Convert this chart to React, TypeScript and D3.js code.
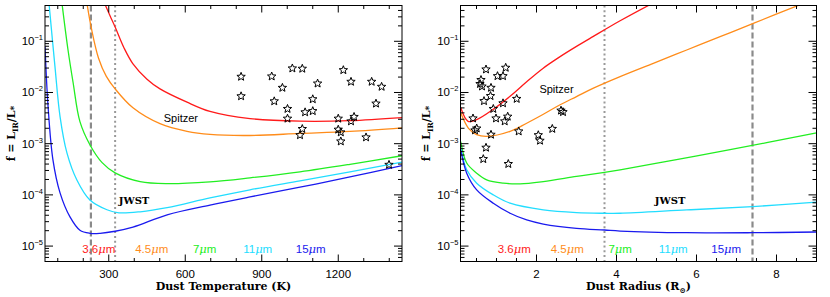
import React from "react";
import * as d3 from "d3";

const W = 830;
const H = 297;

// ---------- Left panel: Dust Temperature (K) vs log10 f ----------
const T_RED: [number, number][] = [[285, -0.275], [305, -0.5], [325, -0.72], [360, -1.13], [395, -1.44], [450, -1.74], [501, -1.93], [607, -2.19], [697, -2.37], [854, -2.51], [1050, -2.56], [1246, -2.55], [1450, -2.49]];
const T_ORANGE: [number, number][] = [[215, -0.275], [232, -0.75], [260, -1.33], [290, -1.68], [325, -1.93], [395, -2.3], [501, -2.61], [607, -2.76], [697, -2.82], [854, -2.84], [1050, -2.8], [1246, -2.76], [1450, -2.69]];
const T_GREEN: [number, number][] = [[117, -0.275], [140, -1.16], [160, -1.8], [187, -2.57], [226, -3.02], [274, -3.37], [325, -3.57], [423, -3.74], [529, -3.78], [697, -3.745], [854, -3.667], [1050, -3.549], [1246, -3.402], [1450, -3.235]];
const T_CYAN: [number, number][] = [[66, -0.275], [89, -1.49], [109, -2.47], [136, -3.18], [175, -3.71], [226, -4.1], [293, -4.29], [340, -4.35], [423, -4.33], [529, -4.25], [697, -4.06], [854, -3.9], [1050, -3.725], [1246, -3.55], [1450, -3.36]];
const T_BLUE: [number, number][] = [[50, -1.1], [62, -2.27], [81, -3.31], [109, -3.96], [148, -4.43], [187, -4.69], [226, -4.75], [266, -4.75], [325, -4.71], [395, -4.63], [529, -4.39], [697, -4.2], [854, -4.04], [1050, -3.85], [1246, -3.65], [1450, -3.43]];
const T_STARS: [number, number][] = [[819, -1.692], [819, -2.073], [939, -1.686], [1020, -1.529], [1059, -1.535], [981, -1.908], [949, -2.171], [1001, -2.32], [1001, -2.51], [1070, -2.386], [1100, -2.131], [1100, -2.363], [1119, -1.824], [1059, -2.712], [1050, -2.833], [1220, -1.563], [1250, -1.79], [1200, -2.51], [1200, -2.725], [1210, -2.778], [1210, -2.955], [1250, -2.563], [1262, -2.476], [1309, -2.876], [1331, -1.79], [1370, -1.888], [1348, -2.216], [1399, -3.412]];
const T_DASHED = 230;
const T_DOTTED = 325;
const T_MAJOR = [300, 600, 900, 1200];
const T_MINOR = [100, 200, 400, 500, 700, 800, 1000, 1100, 1300, 1400];

// ---------- Right panel: Dust Radius (R_sun) vs log10 f ----------
const R_RED: [number, number][] = [[0.105, -2.294], [0.29, -2.563], [0.505, -2.529], [0.91, -2.333], [1.34, -2.073], [1.755, -1.79], [2.16, -1.53], [2.59, -1.3], [3.0, -1.1], [3.41, -0.91], [4.09, -0.6], [4.92, -0.25]];
const R_ORANGE: [number, number][] = [[0.105, -2.398], [0.3, -2.7], [0.505, -2.824], [0.755, -2.857], [1.34, -2.759], [1.755, -2.6], [2.16, -2.43], [2.59, -2.24], [3.0, -2.08], [3.41, -1.92], [4.09, -1.69], [4.92, -1.43], [5.755, -1.17], [6.59, -0.91], [7.42, -0.65], [8.67, -0.26]];
const R_GREEN: [number, number][] = [[0.105, -2.96], [0.255, -3.378], [0.505, -3.575], [0.755, -3.706], [1.17, -3.771], [1.59, -3.784], [2.17, -3.739], [3.0, -3.64], [3.7, -3.56], [4.09, -3.51], [5.5, -3.31], [6.84, -3.118], [9.0, -2.79]];
const R_CYAN: [number, number][] = [[0.105, -3.078], [0.255, -3.51], [0.505, -3.771], [0.92, -4.0], [1.34, -4.163], [2.17, -4.294], [3.0, -4.347], [3.7, -4.359], [4.09, -4.359], [5.755, -4.294], [7.4, -4.229], [9.0, -4.143]];
const R_BLUE: [number, number][] = [[0.105, -3.118], [0.255, -3.575], [0.505, -3.902], [0.92, -4.163], [1.34, -4.359], [1.755, -4.49], [2.17, -4.569], [3.0, -4.653], [3.7, -4.686], [4.09, -4.706], [5.755, -4.739], [7.4, -4.739], [9.0, -4.725]];
const R_STARS: [number, number][] = [[0.7375, -1.549], [1.23, -1.516], [1.025, -1.68], [1.1625, -1.68], [0.6125, -1.755], [0.5875, -1.833], [0.6375, -1.882], [0.8625, -1.908], [0.85, -2.069], [0.6875, -2.167], [1.505, -2.124], [1.1625, -2.21], [0.92, -2.32], [0.9875, -2.506], [1.28, -2.471], [1.205, -2.563], [0.4125, -2.506], [2.6125, -2.353], [2.6625, -2.382], [0.505, -2.702], [0.4625, -2.739], [0.8625, -2.824], [1.555, -2.759], [2.395, -2.71], [2.045, -2.833], [2.0875, -2.941], [0.7375, -3.078], [0.67, -3.3], [1.295, -3.396]];
const R_DOTTED = 3.7;
const R_DASHED = 7.4;
const R_MAJOR = [2, 4, 6, 8];
const R_MINOR = [0.5, 1, 1.5, 2.5, 3, 3.5, 4.5, 5, 5.5, 6.5, 7, 7.5, 8.5, 9];

// ---------- shared ----------
const BANDS = ["3.6", "4.5", "7", "11", "15"];
const COLORS = ["#ff1a1a", "#ff8c1a", "#22ee22", "#22ddff", "#1a1aee"];
const Y_DECADES = [-5, -4, -3, -2, -1];
const Y_DOMAIN: [number, number] = [5e-6, 0.5];

const TOP = 5.5;
const BOTTOM = 261.5;

function starPath(cx: number, cy: number, R = 4.4, r = 1.9) {
  const pts: string[] = [];
  for (let i = 0; i < 10; i++) {
    const a = -Math.PI / 2 + (i * Math.PI) / 5;
    const rr = i % 2 === 0 ? R : r;
    pts.push(`${(cx + rr * Math.cos(a)).toFixed(2)},${(cy + rr * Math.sin(a)).toFixed(2)}`);
  }
  return "M" + pts.join("L") + "Z";
}

type PanelCfg = {
  id: string;
  left: number;
  right: number;
  xDomain: [number, number];
  series: [number, number][][];
  stars: [number, number][];
  dashed: number;
  dotted: number;
  major: number[];
  minor: number[];
  spitzer: [number, number];
  jwst: [number, number];
  xTitle: React.ReactNode;
  yLabelX: number;
};

function Panel({ c }: { c: PanelCfg }) {
  const x = d3.scaleLinear().domain(c.xDomain).range([c.left, c.right]);
  const y = d3.scaleLog().domain(Y_DOMAIN).range([BOTTOM, TOP]);
  const line = d3
    .line<[number, number]>()
    .x((d) => x(d[0]))
    .y((d) => y(Math.pow(10, d[1])))
    .curve(d3.curveCatmullRom.alpha(0.5));
  const minorY: number[] = [];
  Y_DECADES.forEach((k) => {
    for (let m = 2; m <= 9; m++) {
      const v = m * Math.pow(10, k);
      if (v <= Y_DOMAIN[1]) minorY.push(v);
    }
  });
  for (let m = 5; m <= 9; m++) minorY.push(m * 1e-6);
  const legendStep = 53;
  return (
    <g>
      <defs>
        <clipPath id={`clip-${c.id}`}>
          <rect x={c.left} y={TOP} width={c.right - c.left} height={BOTTOM - TOP} />
        </clipPath>
      </defs>
      <g clipPath={`url(#clip-${c.id})`}>
        <line x1={x(c.dashed)} x2={x(c.dashed)} y1={TOP} y2={BOTTOM} stroke="#8a8a8a" strokeWidth={2.2} strokeDasharray="6,3" />
        <line x1={x(c.dotted)} x2={x(c.dotted)} y1={TOP} y2={BOTTOM} stroke="#999" strokeWidth={2} strokeDasharray="2,2.8" />
        {c.series.map((s, i) => (
          <path key={i} d={line(s) || ""} fill="none" stroke={COLORS[i]} strokeWidth={1.3} />
        ))}
        {c.stars.map((s, i) => (
          <path key={i} d={starPath(x(s[0]), y(Math.pow(10, s[1])))} fill="none" stroke="#000" strokeWidth={1} strokeLinejoin="miter" />
        ))}
      </g>
      {/* frame */}
      <rect x={c.left} y={TOP} width={c.right - c.left} height={BOTTOM - TOP} fill="none" stroke="#000" strokeWidth={1} />
      {/* y ticks */}
      {Y_DECADES.map((k) => {
        const yy = y(Math.pow(10, k));
        return (
          <g key={k}>
            <line x1={c.left} x2={c.left + 8} y1={yy} y2={yy} stroke="#000" />
            <line x1={c.right} x2={c.right - 8} y1={yy} y2={yy} stroke="#000" />
            <text x={c.left - 2} y={yy + 4} textAnchor="end" fontFamily="Liberation Sans, Arial, sans-serif" fontSize={11.5}>
              10<tspan fontSize={7.5} dy={-5}>{`\u2212${-k}`}</tspan>
            </text>
          </g>
        );
      })}
      {minorY.map((v, i) => {
        const yy = y(v);
        return (
          <g key={i}>
            <line x1={c.left} x2={c.left + 4} y1={yy} y2={yy} stroke="#000" />
            <line x1={c.right} x2={c.right - 4} y1={yy} y2={yy} stroke="#000" />
          </g>
        );
      })}
      {/* x ticks */}
      {c.major.map((v) => (
        <g key={v}>
          <line x1={x(v)} x2={x(v)} y1={BOTTOM} y2={BOTTOM - 7} stroke="#000" />
          <line x1={x(v)} x2={x(v)} y1={TOP} y2={TOP + 7} stroke="#000" />
          <text x={x(v)} y={BOTTOM + 16} textAnchor="middle" fontFamily="Liberation Sans, Arial, sans-serif" fontSize={11.5}>
            {v}
          </text>
        </g>
      ))}
      {c.minor.map((v) => (
        <g key={v}>
          <line x1={x(v)} x2={x(v)} y1={BOTTOM} y2={BOTTOM - 3.5} stroke="#000" />
          <line x1={x(v)} x2={x(v)} y1={TOP} y2={TOP + 3.5} stroke="#000" />
        </g>
      ))}
      {/* annotations */}
      <text x={x(c.spitzer[0])} y={y(Math.pow(10, c.spitzer[1])) + 4} textAnchor="middle" fontFamily="Liberation Sans, Arial, sans-serif" fontSize={11}>
        Spitzer
      </text>
      <text x={x(c.jwst[0])} y={y(Math.pow(10, c.jwst[1])) + 4} textAnchor="middle" fontFamily="DejaVu Serif, serif" fontSize={10} fontWeight="bold">
        JWST
      </text>
      {BANDS.map((b, i) => (
        <text key={b} x={c.left + 53.7 + i * legendStep} y={252.5} textAnchor="middle" fill={COLORS[i]} fontFamily="Liberation Sans, Arial, sans-serif" fontSize={11.5}>
          {b}
          <tspan fontStyle="italic" fontFamily="DejaVu Serif, serif">{"\u03bc"}</tspan>m
        </text>
      ))}
      {/* axis titles */}
      <text x={(c.left + c.right) / 2} y={290} textAnchor="middle" fontFamily="DejaVu Serif, serif" fontSize={11} fontWeight="bold">
        {c.xTitle}
      </text>
      <text transform={`translate(${c.yLabelX},${(TOP + BOTTOM) / 2}) rotate(-90)`} textAnchor="middle" fontFamily="DejaVu Serif, serif" fontSize={11} fontWeight="bold">
        f = L<tspan fontSize={7.5} dy={3}>IR</tspan>
        <tspan dy={-3}>/L</tspan>
        <tspan fontSize={9} dy={2}>*</tspan>
      </text>
    </g>
  );
}

export default function App() {
  const left: PanelCfg = {
    id: "L",
    left: 45,
    right: 402,
    xDomain: [50, 1450],
    series: [T_RED, T_ORANGE, T_GREEN, T_CYAN, T_BLUE],
    stars: T_STARS,
    dashed: T_DASHED,
    dotted: T_DOTTED,
    major: T_MAJOR,
    minor: T_MINOR,
    spitzer: [583, -2.49],
    jwst: [399, -4.1],
    xTitle: "Dust Temperature (K)",
    yLabelX: 15,
  };
  const right: PanelCfg = {
    id: "R",
    left: 460.5,
    right: 816.5,
    xDomain: [0.1, 9],
    series: [R_RED, R_ORANGE, R_GREEN, R_CYAN, R_BLUE],
    stars: R_STARS,
    dashed: R_DASHED,
    dotted: R_DOTTED,
    major: R_MAJOR,
    minor: R_MINOR,
    spitzer: [2.5, -1.94],
    jwst: [5.34, -4.1],
    xTitle: (
      <>
        Dust Radius (R<tspan fontSize={7.5} dy={3}>{"\u2299"}</tspan>
        <tspan dy={-3}>)</tspan>
      </>
    ),
    yLabelX: 430,
  };
  return (
    <svg width={W} height={H} style={{ position: "absolute", left: 0, top: 0, background: "#fff" }}>
      <rect width={W} height={H} fill="#fff" />
      <Panel c={left} />
      <Panel c={right} />
    </svg>
  );
}
